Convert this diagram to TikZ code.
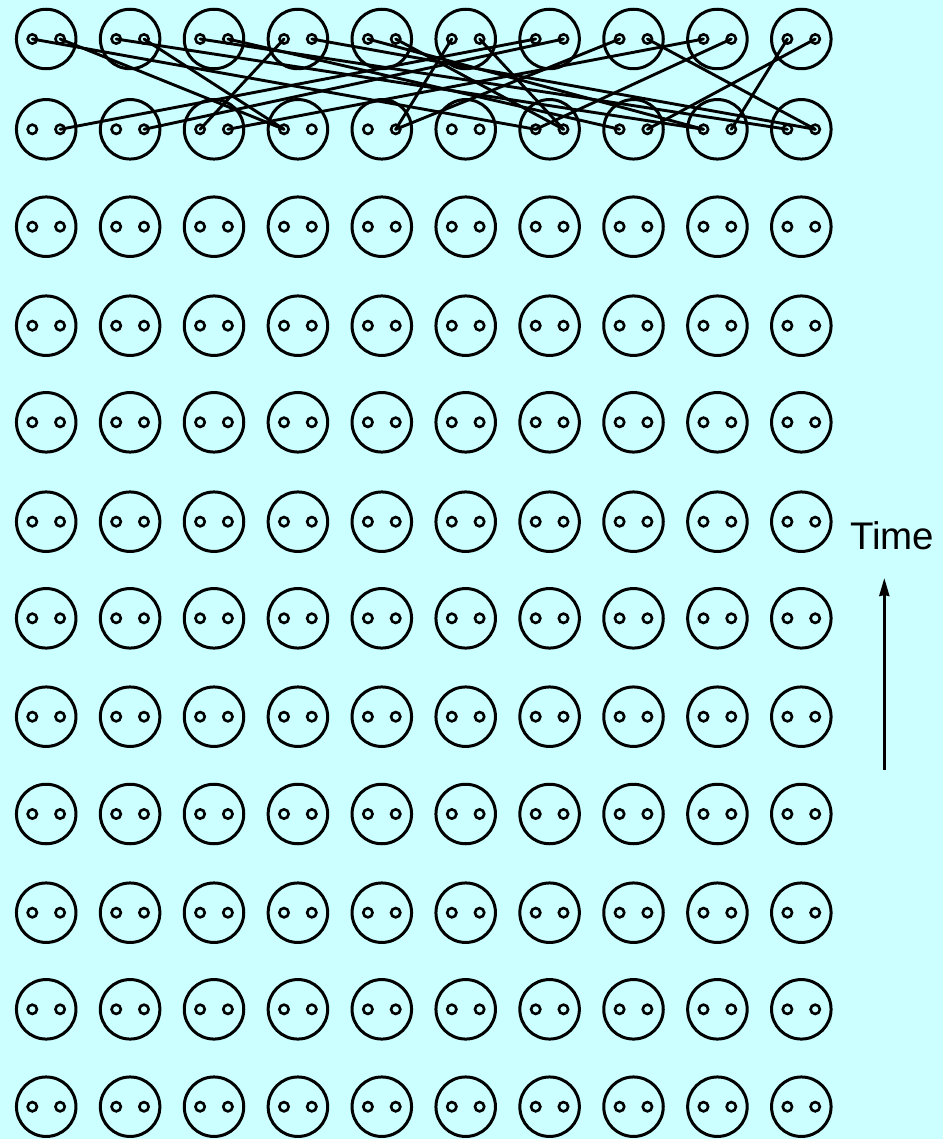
\documentclass[tikz,border=0pt]{standalone}
\usepackage{fontspec}
\setmainfont{Liberation Sans}
\usetikzlibrary{arrows.meta}
\definecolor{bg}{RGB}{204,255,255}
\begin{document}
\begin{tikzpicture}[x=1pt,y=-1pt,
  face/.style={circle,draw,line width=3pt,minimum size=59.5pt,inner sep=0pt,outer sep=0pt},
  eye/.style={circle,draw,line width=2.6pt,minimum size=9.3pt,inner sep=0pt,outer sep=0pt},
  link/.style={line width=2.9pt,line cap=round},
  timelabel/.style={anchor=base west,inner sep=0pt,font=\fontsize{38.5}{42}\selectfont},
  timearrow/.style={line width=2.8pt,-{Stealth[length=18pt,width=10pt,inset=1pt]}}]
\fill[bg] (0,0) rectangle (943,1139);
\useasboundingbox (0,0) rectangle (943,1139);
\foreach \r/\yy in {1/39,2/129.3,3/226.7,4/325.7,5/422.3,6/521.7,7/618.3,8/716.7,9/814,10/912.7,11/1009.3,12/1106.7}{
  \foreach \c in {1,...,10}{
    \pgfmathsetmacro\xx{46.2+83.9*(\c-1)}
    \node[face] (f-\r-\c) at (\xx,\yy) {};
    \node[eye] (e-\r-\c-L) at (\xx-13.9,\yy) {};
    \node[eye] (e-\r-\c-R) at (\xx+13.9,\yy) {};
  }
}
\foreach \a/\b in {1-L/7-L,1-R/4-L,2-L/9-L,2-R/4-L,3-L/10-L,3-R/8-L,4-L/3-L,4-R/10-R,5-L/9-L,5-R/7-R,6-L/5-R,6-R/7-R,7-L/1-R,7-R/2-R,8-L/5-R,8-R/10-R,9-L/3-R,9-R/7-L,10-L/9-R,10-R/8-R}{
  \draw[link] (e-1-\a.center) -- (e-2-\b.center);
}
\node[timelabel] (time) at (850,549) {Time};
\coordinate (abot) at (884.3,770);
\coordinate (atop) at (884.3,578);
\draw[timearrow] (abot) -- (atop);
\end{tikzpicture}
\end{document}
